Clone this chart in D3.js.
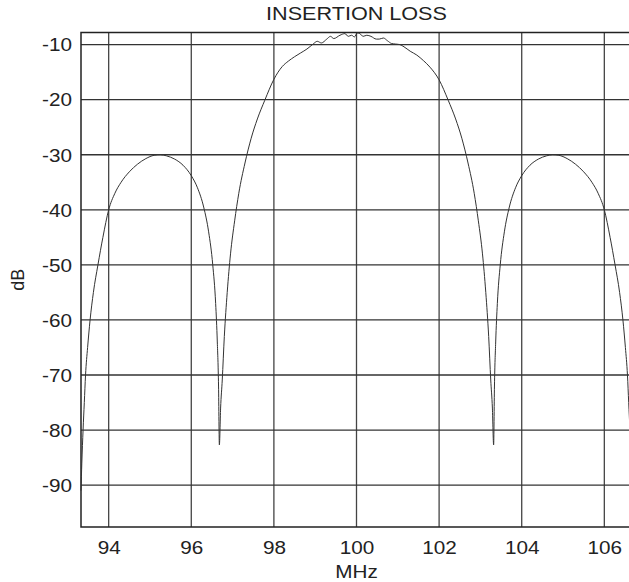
<!DOCTYPE html>
<html>
<head>
<meta charset="utf-8">
<script src="https://cdn.jsdelivr.net/npm/d3@7"></script>
<style>
  body { margin: 0; background: #fff; }
  svg text { font-family: "Liberation Sans", Arial, sans-serif; fill: #222; }
</style>
</head>
<body>
<div id="chart"></div>
<script>
// values
var freqMHz = [
  93.33, 93.35, 93.38, 93.41, 93.44, 93.49, 93.55, 93.63, 93.74,
  93.86, 94.0, 94.15, 94.3, 94.5, 94.7, 94.9, 95.1, 95.25, 95.4,
  95.6, 95.8, 96.0, 96.15, 96.3, 96.42, 96.52, 96.59, 96.63, 96.66,
  96.68, 96.71, 96.75, 96.8, 96.87, 96.95, 97.05, 97.15, 97.3, 97.45,
  97.6, 97.78, 98.0, 98.2, 98.35, 98.5, 98.65, 98.8, 98.95, 99.05,
  99.15, 99.28, 99.37, 99.45, 99.6, 99.72, 99.8, 99.88, 99.95, 100.02,
  100.08, 100.16, 100.25, 100.35, 100.48, 100.55, 100.65, 100.75, 100.85, 100.95,
  101.05, 101.15, 101.3, 101.46, 101.62, 101.78, 102.0, 102.22, 102.4, 102.55,
  102.7, 102.85, 102.95, 103.05, 103.13, 103.2, 103.25, 103.29, 103.32, 103.34,
  103.37, 103.41, 103.48, 103.58, 103.7, 103.85, 104.0, 104.2, 104.4, 104.6,
  104.75, 104.9, 105.1, 105.3, 105.5, 105.7, 105.85, 106.0, 106.14, 106.26,
  106.37, 106.45, 106.51, 106.56, 106.59, 106.62, 106.65, 106.67
];
var lossDb = [
  -91, -86, -80, -75, -70, -65, -60, -55, -50,
  -45, -40, -37, -35, -33.1, -31.7, -30.7, -30.1, -30, -30.2,
  -30.8, -31.9, -33.8, -36, -39.5, -44, -50, -57, -64, -72,
  -82.7, -76, -70.9, -63, -55, -48, -42, -37, -31.5, -27,
  -23.5, -20.1, -16.3, -14.0, -13.0, -12.2, -11.5, -10.8, -9.9, -9.4,
  -9.7, -9.0, -8.5, -8.9, -8.3, -8.0, -8.5, -8.3, -8.6, -7.9,
  -8.0, -8.5, -8.3, -8.5, -9.0, -9.0, -8.8, -9.3, -9.8, -9.9,
  -10.0, -10.4, -11.2, -11.9, -12.9, -14.1, -16.4, -20.1, -23.5, -27,
  -31.5, -37, -42, -48, -55, -63, -70.9, -76, -82.7, -72,
  -64, -57, -50, -44, -39.5, -36, -33.8, -31.9, -30.8, -30.2,
  -30, -30.1, -30.7, -31.7, -33.1, -35, -37, -40, -45, -50,
  -55, -60, -65, -70, -75, -80, -86, -91
];
var xTicks = [94, 96, 98, 100, 102, 104, 106];
var yTicks = [-10, -20, -30, -40, -50, -60, -70, -80, -90];

var svgWidth = 629;
var svgHeight = 582;
var margin = { top: 32.5, right: -3, bottom: 55, left: 81 };
var width = svgWidth - margin.left - margin.right;
var height = svgHeight - margin.top - margin.bottom;
var stretch = 1.15; // the reference text is a little wider than the font

var svg = d3.select("#chart")
  .append("svg")
  .attr("width", svgWidth)
  .attr("height", svgHeight);

var chartGroup = svg.append("g")
  .attr("transform", `translate(${margin.left}, ${margin.top})`);

var xScale = d3.scaleLinear().domain([93.33, 106.67]).range([0, width]);
var yScale = d3.scaleLinear().domain([-97.6, -7.8]).range([height, 0]);

// grid
chartGroup.append("g")
  .selectAll("line")
  .data(xTicks)
  .enter()
  .append("line")
  .attr("x1", d => xScale(d))
  .attr("x2", d => xScale(d))
  .attr("y1", 0)
  .attr("y2", height)
  .attr("stroke", "#444")
  .attr("stroke-width", 1.3);

chartGroup.append("g")
  .selectAll("line")
  .data(yTicks)
  .enter()
  .append("line")
  .attr("x1", 0)
  .attr("x2", width)
  .attr("y1", d => yScale(d))
  .attr("y2", d => yScale(d))
  .attr("stroke", "#333")
  .attr("stroke-width", 1.3);

// axes
var bottomAxis = d3.axisBottom(xScale).tickValues(xTicks)
  .tickFormat(d => String(d)).tickSize(0).tickPadding(0);
var leftAxis = d3.axisLeft(yScale).tickValues(yTicks)
  .tickFormat(d => String(d)).tickSize(0).tickPadding(0);

var xAxis = chartGroup.append("g")
  .attr("transform", `translate(0, ${height})`)
  .call(bottomAxis);
var yAxis = chartGroup.append("g").call(leftAxis);

[xAxis, yAxis].forEach(function(ax) {
  ax.select(".domain").remove();
  ax.selectAll("text")
    .style("font-size", "18px")
    .style("font-family", "Liberation Sans, Arial, sans-serif")
    .attr("fill", "#222");
});
xAxis.selectAll("text")
  .attr("x", 0).attr("y", 0).attr("dy", null)
  .attr("transform", `translate(0, 27) scale(${stretch}, 1)`);
yAxis.selectAll("text")
  .attr("x", 0).attr("y", 0).attr("dy", "0.35em")
  .attr("transform", `translate(-9, 0) scale(${stretch}, 1)`);

// frame
chartGroup.append("path")
  .attr("d", `M${width},0H0V${height}H${width}`)
  .attr("fill", "none")
  .attr("stroke", "#222")
  .attr("stroke-width", 1.5);

// curve
var points = freqMHz.map((f, i) => [f, lossDb[i]]);
var line = d3.line()
  .x(d => xScale(d[0]))
  .y(d => yScale(d[1]))
  .curve(d3.curveMonotoneX);

chartGroup.append("path")
  .datum(points)
  .attr("d", line)
  .attr("fill", "none")
  .attr("stroke", "#333")
  .attr("stroke-width", 1);

// labels
chartGroup.append("text")
  .attr("transform", `translate(${xScale(100)}, -13) scale(1.2, 1)`)
  .attr("text-anchor", "middle")
  .style("font-size", "18px")
  .text("INSERTION LOSS");

chartGroup.append("text")
  .attr("transform", `translate(${xScale(100)}, ${height + 51}) scale(${stretch}, 1)`)
  .attr("text-anchor", "middle")
  .style("font-size", "18px")
  .text("MHz");

chartGroup.append("text")
  .attr("transform", `translate(${-margin.left + 24}, ${height / 2}) rotate(-90)`)
  .attr("text-anchor", "middle")
  .style("font-size", "18px")
  .text("dB");
</script>
</body>
</html>
